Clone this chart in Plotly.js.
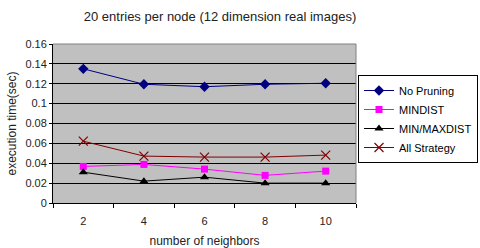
<!DOCTYPE html>
<html><head><meta charset="utf-8">
<script src="https://cdn.plot.ly/plotly-3.0.1.min.js"></script>
<style>html,body{margin:0;padding:0;background:#fff}#c{width:480px;height:248px}</style>
</head><body><div id="c"></div>
<script>
const neighbors = ["2", "4", "6", "8", "10"];
const noPruning = [0.135, 0.1195, 0.117, 0.1195, 0.1205];
const minDist = [0.0368, 0.0388, 0.0341, 0.0278, 0.0321];
const minMaxDist = [0.031, 0.022, 0.026, 0.020, 0.020];
const allStrategy = [0.0622, 0.0472, 0.0462, 0.0462, 0.0482];
const yTicks = [0, 0.02, 0.04, 0.06, 0.08, 0.1, 0.12, 0.14, 0.16];

const fam = "Liberation Sans, Arial, sans-serif";
const font = {family: fam, size: 11, color: "#222"};
function tr(name, y, color, symbol, size) {
  return {x: neighbors, y: y, name: name, type: "scatter", mode: "lines+markers",
    line: {color: color, width: 1},
    marker: {symbol: symbol, size: size, color: color, line: {color: color, width: symbol.indexOf("x") === 0 ? 1.2 : 0}}};
}
const data = [
  tr("No Pruning", noPruning, "#000080", "diamond", 8),
  tr("MINDIST", minDist, "#ff00ff", "square", 7),
  tr("MIN/MAXDIST", minMaxDist, "#000000", "triangle-up", 8),
  tr("All Strategy", allStrategy, "#800000", "x-thin-open", 9)
];
const layout = {
  width: 480, height: 248,
  margin: {l: 53, r: 124, t: 44, b: 45, autoexpand: false},
  paper_bgcolor: "#fff", plot_bgcolor: "#c0c0c0",
  font: font,
  showlegend: true,
  title: {text: "20 entries per node (12 dimension real images)", x: 220/480, xanchor: "center", y: 1 - 16/248, yanchor: "middle", font: {family: fam, size: 13, color: "#222"}},
  xaxis: {type: "category", range: [-0.5, 4.5], tickson: "boundaries", ticks: "outside", ticklen: 4, tickcolor: "#000",
    showline: true, linecolor: "#000", linewidth: 1, showgrid: false, zeroline: false, ticklabelstandoff: 8,
    tickfont: font, title: {text: "number of neighbors", font: {family: fam, size: 12, color: "#222"}, standoff: 12}},
  yaxis: {range: [0, 0.16], tickvals: yTicks, ticktext: yTicks.map(String), ticks: "outside", ticklen: 3, tickcolor: "#000",
    showline: true, linecolor: "#000", linewidth: 1, showgrid: true, gridcolor: "#000", gridwidth: 1, zeroline: false,
    tickfont: font, title: {text: "execution time(sec)", font: {family: fam, size: 12, color: "#222"}, standoff: 6}},
  legend: {x: 1.0066, xanchor: "left", y: 0.805, yanchor: "top", bgcolor: "#fff", bordercolor: "#000", borderwidth: 1,
    font: {family: fam, size: 11, color: "#000"}, tracegroupgap: 0, itemwidth: 30},
  shapes: [
    {type: "line", xref: "paper", yref: "paper", x0: 0, x1: 1, y0: 1, y1: 1, line: {color: "#808080", width: 1}},
    {type: "line", xref: "paper", yref: "paper", x0: 1, x1: 1, y0: 0, y1: 1, line: {color: "#808080", width: 1}}
  ]
};
Plotly.newPlot("c", data, layout, {displayModeBar: false, staticPlot: true});
</script></body></html>
